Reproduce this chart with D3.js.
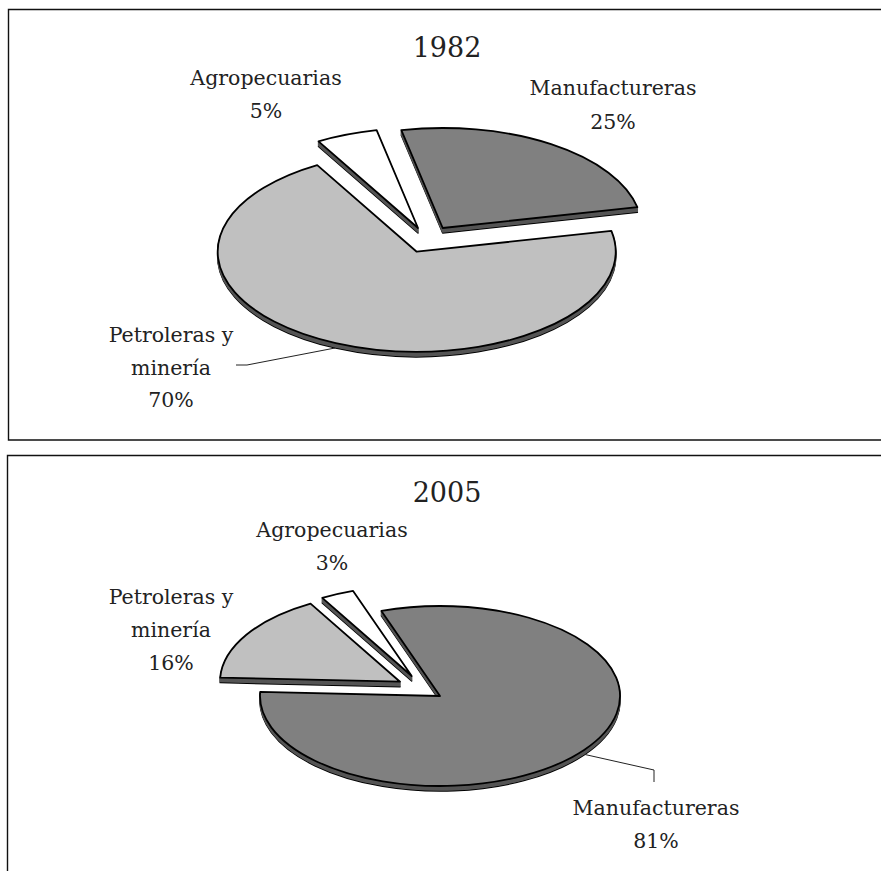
<!DOCTYPE html>
<html>
<head>
<meta charset="utf-8">
<script src="https://cdn.jsdelivr.net/npm/d3@7"></script>
<style>
    html, body { margin: 0; padding: 0; background: #fff; }
    svg { display: block; }
    text { font-family: "DejaVu Serif", serif; fill: #222; }
</style>
</head>
<body>
<div id="chart"></div>
<script>
// Data
const categories = ["Manufactureras", "Petroleras y minería", "Agropecuarias"];
const values1982 = [25, 70, 5];
const values2005 = [81, 16, 3];
const sliceColors = ["#808080", "#c0c0c0", "#ffffff"];

const width = 881, height = 871;
const depth = 5;

const svg = d3.select("#chart")
    .append("svg")
    .attr("width", width)
    .attr("height", height);

// Frames (no right side, the second one runs off the bottom)
const frames = [
    "M881,9.5H8.5V440H881",
    "M881,455.5H7.5V871"
];
svg.selectAll(".frame")
    .data(frames)
    .enter()
    .append("path")
    .attr("class", "frame")
    .attr("fill", "none")
    .attr("stroke", "#111")
    .attr("stroke-width", 1.4)
    .attr("d", d => d);

const arc = d3.arc().innerRadius(0).outerRadius(100);

function drawPie(values, opts) {
    const pie = d3.pie()
        .sort(null)
        .startAngle(opts.startDeg * Math.PI / 180)
        .endAngle((opts.startDeg + 360) * Math.PI / 180);
    const slices = pie(values);

    slices.forEach((s, i) => {
        const c = opts.centers[i];
        const g = svg.append("g");
        const place = dy => `translate(${c[0]},${c[1] + dy}) scale(${opts.rx / 100},${opts.ry / 100})`;

        // Stack copies of the slice downward to get the 3D rim
        d3.range(depth, 0, -1).forEach(dy => {
            g.append("path")
                .attr("d", arc(s))
                .attr("transform", place(dy))
                .attr("fill", "#555")
                .attr("stroke", dy === depth ? "#000" : "#555")
                .attr("stroke-width", 1.5)
                .attr("stroke-linejoin", "round")
                .attr("vector-effect", "non-scaling-stroke");
        });

        g.append("path")
            .attr("d", arc(s))
            .attr("transform", place(0))
            .attr("fill", sliceColors[i])
            .attr("stroke", "#000")
            .attr("stroke-width", 1.8)
            .attr("stroke-linejoin", "round")
            .attr("vector-effect", "non-scaling-stroke");
    });

    // Leader line
    svg.append("path")
        .attr("d", d3.line()(opts.leader))
        .attr("fill", "none")
        .attr("stroke", "#222")
        .attr("stroke-width", 1);

    svg.append("text")
        .attr("x", opts.title[0])
        .attr("y", opts.title[1])
        .attr("text-anchor", "middle")
        .style("font-size", "27px")
        .text(opts.titleText);

    // Slice labels, name on one or two lines with the percent below
    opts.labels.forEach((lab, i) => {
        const lines = lab.lines.concat([`${values[i]}%`]);
        svg.selectAll(null)
            .data(lines)
            .enter()
            .append("text")
            .attr("x", lab.x)
            .attr("y", (d, j) => lab.y + j * lab.step)
            .attr("text-anchor", "middle")
            .style("font-size", "20.5px")
            .text(d => d);
    });
}

drawPie(values1982, {
    titleText: "1982",
    title: [447, 56.5],
    startDeg: -12,
    rx: 199, ry: 100,
    centers: [[442.7, 228], [416.7, 251.7], [418, 228]],
    leader: [[236, 365], [247, 365], [335, 348]],
    labels: [
        { lines: ["Manufactureras"], x: 613, y: 95, step: 34 },
        { lines: ["Petroleras y", "minería"], x: 171, y: 342, step: 32.5 },
        { lines: ["Agropecuarias"], x: 266, y: 85, step: 33 }
    ]
});

drawPie(values2005, {
    titleText: "2005",
    title: [447, 501.5],
    startDeg: -19,
    rx: 180, ry: 90,
    centers: [[440, 696], [400, 681.7], [411.7, 676]],
    leader: [[585, 754.5], [654, 770], [654, 782]],
    labels: [
        { lines: ["Manufactureras"], x: 656, y: 815, step: 33 },
        { lines: ["Petroleras y", "minería"], x: 171, y: 604, step: 33 },
        { lines: ["Agropecuarias"], x: 332, y: 537, step: 33 }
    ]
});
</script>
</body>
</html>
